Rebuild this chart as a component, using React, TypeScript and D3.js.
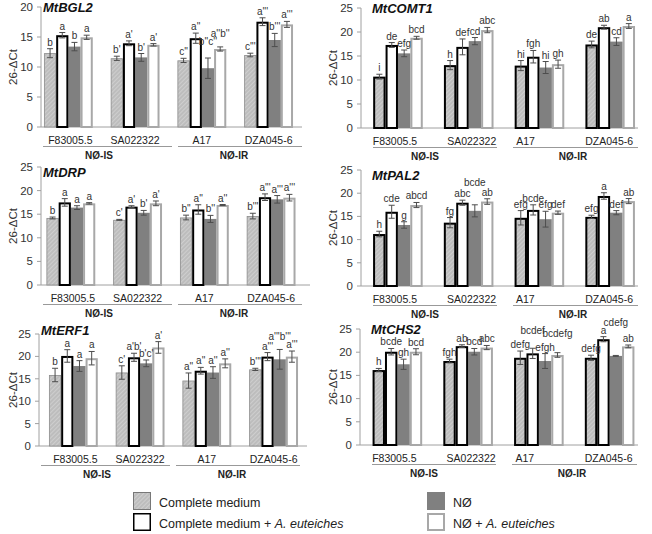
import React from 'react';
import * as d3 from 'd3';

const categories = ['F83005.5', 'SA022322', 'A17', 'DZA045-6'];
const groupNames = ['NØ-IS', 'NØ-IR'];
const seriesNames = ['Complete medium', 'Complete medium + ', 'NØ', 'NØ + '];
const genes = ['MtBGL2', 'MtCOMT1', 'MtDRP', 'MtPAL2', 'MtERF1', 'MtCHS2'];

// values[category][series]
const bgl2Values = [[12.3, 15.3, 13.4, 14.95], [11.45, 13.95, 11.6, 13.7], [11.1, 14.8, 9.8, 13.0], [12.0, 17.55, 14.5, 17.1]];
const bgl2Errors = [[0.75, 0.45, 0.7, 0.35], [0.35, 0.4, 0.65, 0.2], [0.35, 0.85, 1.7, 0.35], [0.3, 0.65, 1.1, 0.5]];
const bgl2Letters = [['b', 'a', 'b', 'a'], ["b'", "a'", "b'", "a'"], ["c''", "a''", "b''c''", "a''b''"], ["c'''", "a'''", "b'''", "a'''"]];
const bgl2LabelAt = [[null, null, null, null], [null, null, null, null], [null, null, 13.1, 14.5], [null, null, null, null]];

const comt1Values = [[10.7, 17.3, 15.55, 18.8], [13.1, 16.9, 18.1, 20.4], [13.0, 14.85, 12.6, 13.3], [17.4, 21.0, 18.0, 21.25]];
const comt1Errors = [[0.5, 0.5, 0.7, 0.3], [0.95, 1.65, 0.75, 0.55], [1.05, 1.3, 1.25, 0.85], [0.7, 0.4, 0.8, 0.5]];
const comt1Letters = [['i', 'de', 'efg', 'bcd'], ['h', 'def', 'cd', 'abc'], ['hi', 'fgh', 'hi', 'gh'], ['de', 'ab', 'cd', 'a']];
const comt1LabelAt = [[null, null, null, null], [null, null, null, null], [null, null, null, null], [null, null, null, null]];

const drpValues = [[14.2, 17.5, 16.4, 17.3], [13.8, 16.6, 15.3, 17.3], [14.3, 16.0, 14.0, 16.95], [14.6, 18.6, 18.15, 18.5]];
const drpErrors = [[0.2, 0.8, 0.4, 0.15], [0.1, 0.2, 0.5, 0.5], [0.5, 1.0, 0.75, 0.1], [0.6, 0.7, 0.8, 0.7]];
const drpLetters = [['b', 'a', 'a', 'a'], ["c'", "a'", "b'", "a'"], ["b''", "a''", "b''", "a''"], ["b'''", "a'''", "a'''", "a'''"]];
const drpLabelAt = [[null, null, null, null], [null, null, null, null], [null, null, null, null], [null, null, null, null]];

const pal2Values = [[11.2, 16.0, 13.15, 17.45], [13.65, 17.95, 16.2, 18.2], [14.7, 16.4, 14.4, 15.8], [14.9, 19.4, 15.8, 18.3]];
const pal2Errors = [[0.6, 1.4, 0.7, 0.55], [1.1, 0.55, 1.3, 0.6], [1.55, 1.1, 1.7, 0.35], [0.35, 0.7, 0.45, 0.55]];
const pal2Letters = [['h', 'cde', 'g', 'abcd'], ['fg', 'abc', 'bcde', 'ab'], ['efg', 'bcde', 'efg', 'def'], ['efg', 'a', 'def', 'ab']];
const pal2LabelAt = [[null, null, null, null], [null, null, 21.0, null], [null, null, null, null], [null, null, null, null]];

const erf1Values = [[15.85, 20.1, 17.85, 19.6], [16.4, 19.8, 18.45, 22.0], [14.6, 16.8, 16.4, 18.45], [17.1, 19.95, 19.35, 19.95]];
const erf1Errors = [[1.5, 1.4, 1.2, 1.5], [1.5, 0.9, 0.75, 1.3], [1.7, 0.75, 1.3, 1.0], [0.25, 0.9, 2.2, 1.25]];
const erf1Letters = [['b', 'a', 'a', 'a'], ["c'", "a'b'", "b'c'", "a'"], ["a''", "a''", "a''", "a''"], ["b'''", "a'''", "a'''b'''", "a'''"]];
const erf1LabelAt = [[null, null, null, null], [null, null, null, null], [null, null, null, null], [null, null, 22.9, null]];

const chs2Values = [[16.15, 20.1, 17.4, 20.1], [18.1, 21.3, 20.1, 21.0], [18.8, 19.75, 18.1, 19.4], [18.8, 22.8, 19.2, 21.25]];
const chs2Errors = [[0.35, 0.7, 1.1, 0.65], [0.4, 0.3, 0.7, 0.45], [1.45, 1.1, 1.6, 0.5], [0.55, 0.55, 0.1, 0.3]];
const chs2Letters = [['h', 'bcde', 'gh', 'bcd'], ['fgh', 'ab', 'bcd', 'abc'], ['defg', 'bcdef', 'efgh', 'bcdefg'], ['defg', 'a', 'cdefg', 'ab']];
const chs2LabelAt = [[null, null, null, null], [null, null, null, null], [null, 23.3, null, 22.6], [null, null, 24.9, null]];

type Side = 'L' | 'R';
interface PanelDef {
  gene: string;
  values: number[][];
  errors: number[][];
  letters: string[][];
  labelAt: (number | null)[][];
  yMax: number;
  side: Side;
  axisX: number;
  xEnd: number;
  y0: number;
  yTop: number;
  bandStart: number;
  titleY: number;
}

const panels: PanelDef[] = [
  { gene: genes[0], values: bgl2Values, errors: bgl2Errors, letters: bgl2Letters, labelAt: bgl2LabelAt, yMax: 20, side: 'L', axisX: 41, xEnd: 302, y0: 127, yTop: 7, bandStart: 35, titleY: 12 },
  { gene: genes[1], values: comt1Values, errors: comt1Errors, letters: comt1Letters, labelAt: comt1LabelAt, yMax: 25, side: 'R', axisX: 361, xEnd: 638, y0: 128, yTop: 8, bandStart: 362.6, titleY: 13 },
  { gene: genes[2], values: drpValues, errors: drpErrors, letters: drpLetters, labelAt: drpLabelAt, yMax: 25, side: 'L', axisX: 41, xEnd: 310, y0: 285, yTop: 167, bandStart: 37.5, titleY: 177 },
  { gene: genes[3], values: pal2Values, errors: pal2Errors, letters: pal2Letters, labelAt: pal2LabelAt, yMax: 25, side: 'R', axisX: 361, xEnd: 638, y0: 286, yTop: 170, bandStart: 362.5, titleY: 180 },
  { gene: genes[4], values: erf1Values, errors: erf1Errors, letters: erf1Letters, labelAt: erf1LabelAt, yMax: 25, side: 'L', axisX: 39, xEnd: 307, y0: 446, yTop: 334, bandStart: 40, titleY: 335 },
  { gene: genes[5], values: chs2Values, errors: chs2Errors, letters: chs2Letters, labelAt: chs2LabelAt, yMax: 25, side: 'R', axisX: 360, xEnd: 638, y0: 445, yTop: 329, bandStart: 362, titleY: 334 },
];

const FONT = 'Liberation Sans, Arial, sans-serif';
const sideCfg = {
  L: { band: 66.75, barW: 12.2, labelOff: [2, 0, 0, 0], titleDx: 2, yTitleX: 13, isLine: [2, 131], irLine: [137, 261], isLabel: 58, irLabel: 193 },
  R: { band: 70.75, barW: 12.4, labelOff: [-3, 3, -14, -1], titleDx: 11, yTitleX: 333, isLine: [12, 136], irLine: [152, 277], isLabel: 64, irLabel: 212 },
};

function seriesStyle(s: number, side: Side) {
  if (s === 0) return side === 'L' ? { fill: 'url(#hatch)', stroke: '#8c8c8c', sw: 0.8 } : { fill: 'url(#hatch)', stroke: '#000', sw: 2 };
  if (s === 1) return { fill: '#fff', stroke: '#000', sw: 2 };
  if (s === 2) return { fill: '#808080', stroke: 'none', sw: 0 };
  return { fill: '#fff', stroke: '#a8a8a8', sw: 2 };
}

function Panel({ p }: { p: PanelDef }) {
  const cfg = sideCfg[p.side];
  const y = d3.scaleLinear().domain([0, p.yMax]).range([p.y0, p.yTop]);
  const x = d3.scaleBand<string>().domain(categories).range([p.bandStart, p.bandStart + cfg.band * categories.length]).padding(0);
  const ticks = d3.range(0, p.yMax + 0.001, 5);
  const order = [0, 2, 3, 1];
  const barX = (ci: number, s: number) => (x(categories[ci]) as number) + x.bandwidth() / 2 - 2 * cfg.barW + s * cfg.barW;
  return (
    <g>
      <text x={p.axisX + cfg.titleDx} y={p.titleY} fontSize={13} fontWeight="bold" fontStyle="italic" fontFamily={FONT} fill="#111">{p.gene}</text>
      <text transform={`translate(${cfg.yTitleX},${(p.y0 + p.yTop) / 2}) rotate(-90)`} textAnchor="middle" dy="0.35em" fontSize={11.5} fontFamily={FONT} fill="#333">26-ΔCt</text>
      {ticks.map((t) => (
        <g key={t}>
          <line x1={p.axisX - 4} x2={p.axisX} y1={y(t)} y2={y(t)} stroke="#a0a0a0" />
          <text x={p.axisX - 8} y={y(t)} dy="0.35em" textAnchor="end" fontSize={11.5} fontFamily={FONT} fill="#333">{t}</text>
        </g>
      ))}
      <line x1={p.axisX} x2={p.axisX} y1={p.y0} y2={p.yTop} stroke="#a0a0a0" />
      <line x1={p.axisX} x2={p.xEnd} y1={p.y0} y2={p.y0} stroke="#a0a0a0" />
      {categories.map((c, ci) =>
        order.map((s) => {
          const st = seriesStyle(s, p.side);
          const v = p.values[ci][s];
          const x0 = barX(ci, s);
          return (
            <rect key={`${c}-${s}`} x={x0 + st.sw / 2} y={y(v) + st.sw / 2} width={cfg.barW - st.sw} height={Math.max(0, y(0) - y(v) - st.sw / 2)}
              fill={st.fill} stroke={st.stroke} strokeWidth={st.sw} />
          );
        })
      )}
      {categories.map((c, ci) =>
        [0, 1, 2, 3].map((s) => {
          const v = p.values[ci][s];
          const e = p.errors[ci][s];
          const cx = barX(ci, s) + cfg.barW / 2;
          const la = p.labelAt[ci][s];
          const ly = y(la != null ? la : v + e) - 3;
          return (
            <g key={`e-${c}-${s}`}>
              <line x1={cx} x2={cx} y1={y(v + e)} y2={y(v - e)} stroke="#4d4d4d" strokeWidth={1} />
              <line x1={cx - 3} x2={cx + 3} y1={y(v + e)} y2={y(v + e)} stroke="#4d4d4d" strokeWidth={1} />
              <line x1={cx - 3} x2={cx + 3} y1={y(v - e)} y2={y(v - e)} stroke="#4d4d4d" strokeWidth={1} />
              <text x={cx} y={ly} textAnchor="middle" fontSize={10} fontFamily={FONT} fill="#333">{p.letters[ci][s]}</text>
            </g>
          );
        })
      )}
      {categories.map((c, ci) => (
        <text key={`l-${c}`} x={(x(c) as number) + x.bandwidth() / 2 + cfg.labelOff[ci]} y={p.y0 + 16.5} textAnchor="middle" fontSize={10.5} fontFamily={FONT} fill="#222">{c}</text>
      ))}
      <line x1={p.axisX + cfg.isLine[0]} x2={p.axisX + cfg.isLine[1]} y1={p.y0 + 19.5} y2={p.y0 + 19.5} stroke="#999" />
      <line x1={p.axisX + cfg.irLine[0]} x2={p.axisX + cfg.irLine[1]} y1={p.y0 + 19.5} y2={p.y0 + 19.5} stroke="#999" />
      <text x={p.axisX + cfg.isLabel} y={p.y0 + 31.5} textAnchor="middle" fontSize={10} fontWeight="bold" fontFamily={FONT} fill="#222">{groupNames[0]}</text>
      <text x={p.axisX + cfg.irLabel} y={p.y0 + 31.5} textAnchor="middle" fontSize={10} fontWeight="bold" fontFamily={FONT} fill="#222">{groupNames[1]}</text>
    </g>
  );
}

function Legend() {
  const items = [
    { s: 0, x: 133, y: 492 },
    { s: 1, x: 133, y: 513 },
    { s: 2, x: 427, y: 492 },
    { s: 3, x: 427, y: 513 },
  ];
  return (
    <g>
      {items.map(({ s, x, y }) => {
        const st = s === 0 ? { fill: 'url(#hatch)', stroke: '#777', sw: 1 } : seriesStyle(s, 'L');
        const sw = s === 1 ? 1.5 : st.sw;
        return (
          <g key={s}>
            <rect x={x + sw / 2} y={y + sw / 2} width={18 - sw} height={18 - sw} fill={st.fill} stroke={st.stroke} strokeWidth={sw} />
            <text x={x + 26} y={y + 15} fontSize={12.5} fontFamily={FONT} fill="#222">
              {seriesNames[s]}
              {(s === 1 || s === 3) && <tspan fontStyle="italic">A. euteiches</tspan>}
            </text>
          </g>
        );
      })}
    </g>
  );
}

export default function App() {
  return (
    <svg width={652} height={534} style={{ position: 'absolute', left: 0, top: 0, background: '#fff' }}>
      <defs>
        <pattern id="hatch" width={3} height={3} patternUnits="userSpaceOnUse" patternTransform="rotate(45)">
          <rect width={3} height={3} fill="#bdbdbd" />
          <line x1={0} y1={0} x2={0} y2={3} stroke="#d6d6d6" strokeWidth={1.4} />
        </pattern>
      </defs>
      <rect width={652} height={534} fill="#fff" />
      {panels.map((p) => (
        <Panel key={p.gene} p={p} />
      ))}
      <Legend />
    </svg>
  );
}
